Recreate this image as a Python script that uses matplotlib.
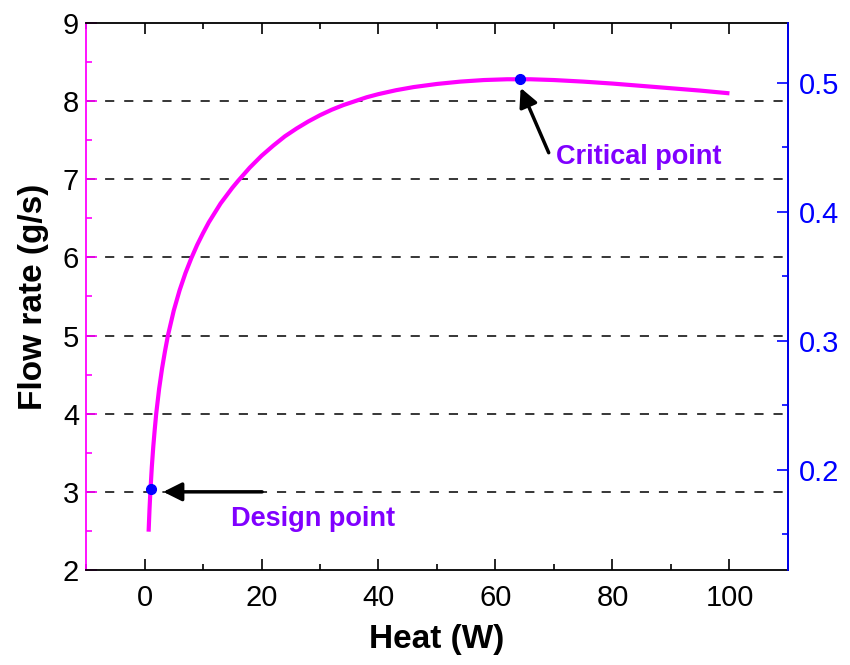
import matplotlib
matplotlib.use("Agg")
import matplotlib.pyplot as plt
from matplotlib.ticker import MultipleLocator

plt.rcParams['font.family'] = ['Liberation Sans', 'DejaVu Sans']

# flow rate curve vs. heat load
heat = [0.7, 0.85, 1.0, 1.25, 1.5, 1.75, 2.0, 2.5, 3.0, 3.5, 4.0, 5.0, 6.0, 7.0,
        8.0, 9.0, 10, 11, 12, 13, 14, 15, 16, 18, 20, 22, 24, 26, 28, 30, 32, 34,
        36, 38, 40, 43, 46, 50, 54, 58, 62, 66, 70, 75, 80, 85, 90, 95, 100]
flow = [2.49, 2.77, 3.0, 3.32, 3.58, 3.8, 4.0, 4.32, 4.58, 4.8, 5.0, 5.32, 5.58, 5.8,
        5.99, 6.16, 6.31, 6.45, 6.57, 6.69, 6.79, 6.89, 6.98, 7.15, 7.3, 7.43, 7.55,
        7.65, 7.74, 7.82, 7.89, 7.95, 8.0, 8.05, 8.09, 8.14, 8.18, 8.22, 8.25, 8.27,
        8.28, 8.28, 8.27, 8.25, 8.225, 8.195, 8.165, 8.135, 8.10]

design_pt = (1.08, 3.04)
critical_pt = (64.2, 8.28)

MAGENTA = '#ff00ff'
BLUE = '#0000ff'
PURPLE = '#8000ff'

fig = plt.figure(figsize=(8.5, 6.65), dpi=100)
ax = fig.add_axes([0.1012, 0.1429, 0.8258, 0.8225])

ax.plot(heat, flow, color=MAGENTA, lw=3, zorder=3, solid_capstyle='butt',
        solid_joinstyle='round')
ax.plot(*design_pt, 'o', color=BLUE, ms=7, zorder=4)
ax.plot(*critical_pt, 'o', color=BLUE, ms=7, zorder=4)

ax.set_xlim(-10, 110)
ax.set_ylim(2, 9)
ax.xaxis.set_major_locator(MultipleLocator(20))
ax.xaxis.set_minor_locator(MultipleLocator(10))
ax.yaxis.set_major_locator(MultipleLocator(1))
ax.yaxis.set_minor_locator(MultipleLocator(0.5))

ax.tick_params(axis='x', which='both', direction='in', top=True, labelsize=21,
               pad=10, width=1.2)
ax.tick_params(axis='x', which='major', length=8)
ax.tick_params(axis='x', which='minor', length=4)
ax.tick_params(axis='y', which='both', direction='in', colors=MAGENTA,
               labelcolor='black', labelsize=21, pad=5, width=1.2)
ax.tick_params(axis='y', which='major', length=8)
ax.tick_params(axis='y', which='minor', length=4)

# dashed reference lines at interior flow ticks
for yv in range(3, 9):
    ax.axhline(yv, color='black', lw=1.1, ls=(0, (6, 6.5)), zorder=1)

for side in ('top', 'bottom', 'right'):
    ax.spines[side].set_linewidth(1.3)
ax.spines['left'].set_color(MAGENTA)
ax.spines['left'].set_linewidth(1.3)

ax.set_xlabel('Heat (W)', fontsize=24, fontweight='bold', labelpad=9)
ax.set_ylabel('Flow rate (g/s)', fontsize=24, fontweight='bold', labelpad=10)

# secondary axis on the right
ax2 = ax.twinx()
ax2.set_ylim(0.1225, 0.5465)
ax2.yaxis.set_major_locator(MultipleLocator(0.1))
ax2.yaxis.set_minor_locator(MultipleLocator(0.05))
ax2.tick_params(axis='y', which='both', direction='in', colors=BLUE,
                labelsize=21, pad=8, width=1.2)
ax2.tick_params(axis='y', which='major', length=8)
ax2.tick_params(axis='y', which='minor', length=4)
ax2.spines['right'].set_color(BLUE)
ax2.spines['right'].set_linewidth(1.3)
for side in ('left', 'top', 'bottom'):
    ax2.spines[side].set_visible(False)

arrow_kw = dict(arrowstyle='-|>', color='black', lw=2.5, mutation_scale=28,
                shrinkA=0, shrinkB=0)
ax.annotate('', xy=(3.2, 3.0), xytext=(20.1, 3.0), arrowprops=arrow_kw, zorder=5)
ax.annotate('', xy=(64.3, 8.17), xytext=(69.1, 7.34), arrowprops=arrow_kw, zorder=5)

ax.text(28.9, 2.65, 'Design point', color=PURPLE, fontsize=19.5,
        fontweight='bold', ha='center', va='center')
ax.text(70.3, 7.28, 'Critical point', color=PURPLE, fontsize=19.5,
        fontweight='bold', ha='left', va='center')

fig.savefig('out.png', dpi=100)
